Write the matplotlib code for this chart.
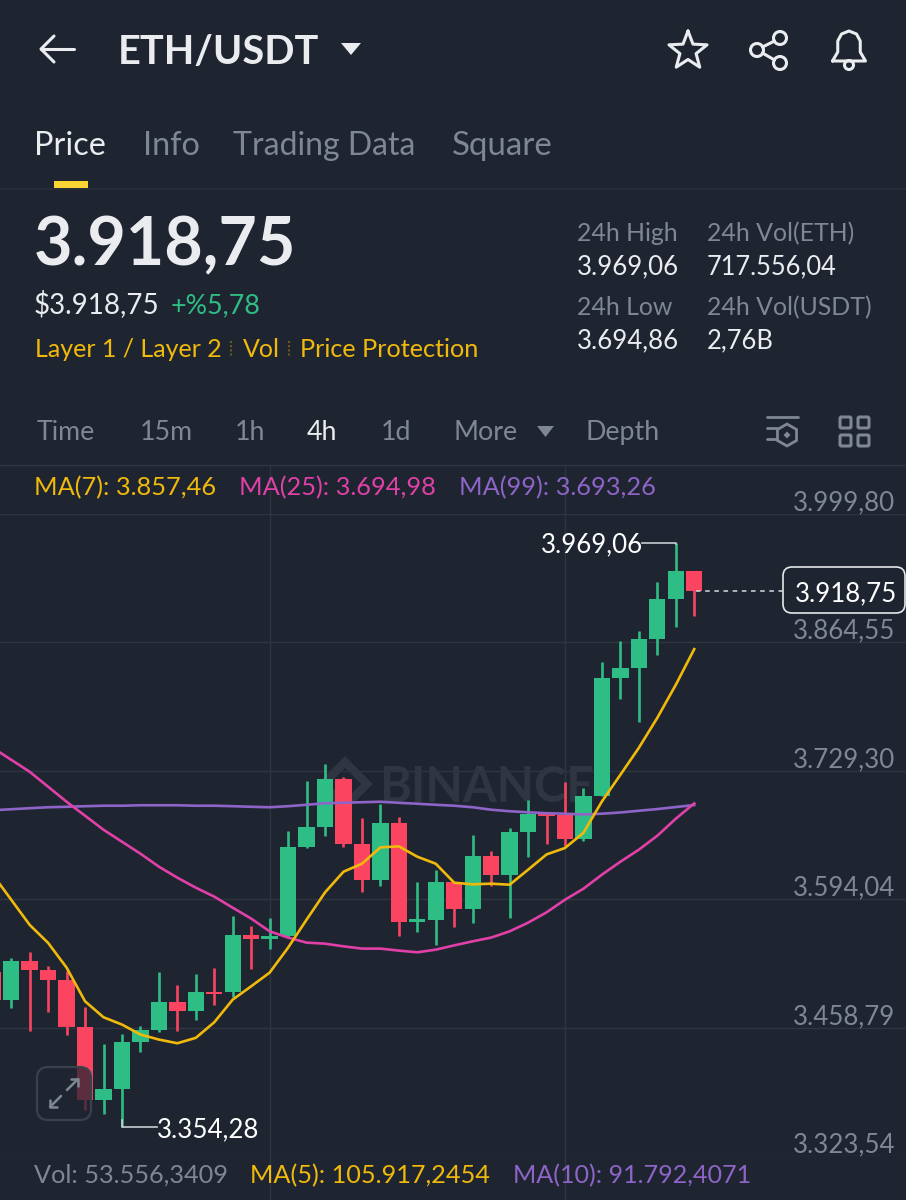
import matplotlib
matplotlib.use("Agg")
import matplotlib.pyplot as plt
from matplotlib.patches import FancyBboxPatch, Circle, Polygon, Rectangle, RegularPolygon
import numpy as np

FONT = "Lato"
plt.rcParams["font.family"] = [FONT, "DejaVu Sans"]

BG = "#1E2530"; GRID = "#2E3540"; UP = "#2EBD85"; DOWN = "#FB4560"
YEL = "#F0B90B"; PINK = "#E040A8"; PUR = "#8E64C8"; GRAY = "#7F8792"; LIGHT = "#EAECEF"

opens  = [3517.8,3488,3529,3519,3509,3459,3383,3394,3444,3456,3485.5,3476.4,3496.7,3496.7,3556.7,3552,3555,3649.3,3669.6,3721,3652,3614,3674,3570.4,3571.8,3611.8,3584,3640,3619.6,3664.8,3683.8,3683,3657.4,3703,3827.2,3837.4,3868,3910.7,3939.8]
closes = [3488.3,3529,3519,3509,3459,3383,3394,3444,3456,3485.5,3476.4,3496.7,3494.3,3556.7,3552,3555.7,3649.3,3669.6,3720.9,3652,3614,3673.9,3570.4,3572.8,3611.8,3584,3639.9,3619.6,3664.8,3683.8,3681.6,3657.4,3702.3,3827.2,3837.4,3868,3910.7,3939.8,3918.75]
highs  = [3517.8,3532,3538,3524,3518,3481,3442,3452.5,3460,3517,3504,3515,3522,3576,3565.5,3574.6,3665.4,3718.8,3736.7,3723,3680,3694.6,3681,3612.5,3624.4,3612,3662,3644.4,3669,3698.8,3684,3717,3711.4,3844,3866,3877,3928.2,3969.06,3939.8]
lows   = [3488.3,3479,3455,3475,3451.5,3372.5,3368,3354.28,3433.6,3454,3455,3467,3483,3491.5,3521,3542,3553,3648,3661,3648.6,3602,3608,3555,3559,3546,3564.4,3569.3,3607.5,3574.3,3639,3652.5,3649.7,3655,3703,3804.8,3781,3851.4,3880.6,3892.5]
ma7    = [3620,3593.5,3567,3548,3522,3486.5,3469.7,3462,3451.5,3446.2,3442.3,3448,3464.4,3488.3,3502.3,3516.7,3543,3572.5,3601.2,3623,3631.4,3648.6,3649.7,3638.8,3631.4,3611.4,3609.7,3610.4,3609.3,3625.1,3641.2,3648,3664,3697,3725.1,3753.5,3785.1,3819.8,3857.46]
ma25   = [3753.5,3740.9,3728.3,3712.5,3696.7,3682,3667.2,3654.6,3642,3628.3,3616.7,3606.2,3596.7,3585.1,3573.6,3560.2,3553.6,3548.3,3547.2,3544.4,3542,3542,3539.9,3538.1,3540.9,3545.4,3549.7,3553.6,3560.2,3569.3,3580.2,3593.5,3605.1,3619.9,3633.5,3646.2,3660.9,3678.8,3694.98]
ma99   = [3687.75,3688.8,3689.9,3690.9,3691.4,3692,3692.5,3692.5,3693,3693,3693,3692.5,3692.5,3692,3691.4,3690.9,3692,3693.5,3695.1,3695.6,3696.2,3696.7,3695.6,3694.6,3693.5,3692.5,3690.9,3688.3,3686.7,3685.6,3684.6,3684.1,3683.3,3684.1,3685.4,3687.2,3689,3691.1,3693.26]
axis_ticks = [3999.80,3864.55,3729.30,3594.04,3458.79,3323.54]
axis_labels = ["3.999,80","3.864,55","3.729,30","3.594,04","3.458,79","3.323,54"]

fig = plt.figure(figsize=(9.06, 12), dpi=100, facecolor=BG)
W, H = 906, 1200

# background layer (watermark, vertical grid)
bgax = fig.add_axes([0, 0, 1, 1], zorder=0); bgax.set_xlim(0, W); bgax.set_ylim(H, 0); bgax.axis("off")
bgax.text(379, 802, "BINANCE", color="#2F3641", fontsize=35, fontweight="bold", ha="left", va="baseline")
bgax.add_patch(RegularPolygon((345, 784), 4, radius=22, orientation=0, fill=False, ec="#2F3641", lw=6))
bgax.add_patch(RegularPolygon((345, 784), 4, radius=7, orientation=0, fc="#2F3641", ec="none"))

# chart
n = len(opens)
idx = np.arange(-1, n - 1)
spacing = 18.46; x0 = 11.2
ax = fig.add_axes([0, (H - 1156) / H, 1, (1156 - 514) / H], zorder=1)
ax.patch.set_alpha(0)
ax.set_xlim(-x0 / spacing, (W - x0) / spacing)
ax.set_ylim(axis_ticks[-1], axis_ticks[0])
for s in ax.spines.values():
    s.set_visible(False)
ax.set_xticks([]); ax.set_yticks(axis_ticks); ax.set_yticklabels([])
ax.tick_params(length=0)
ax.yaxis.grid(True, color=GRID, lw=1); ax.set_axisbelow(True)

colors = [UP if c >= o else DOWN for o, c in zip(opens, closes)]
ax.vlines(idx, lows, highs, colors=colors, lw=1.9, zorder=2)
b = np.minimum(opens, closes); h = np.abs(np.array(closes) - np.array(opens))
ax.bar(idx, h, bottom=b, width=0.885, color=colors, lw=0, zorder=3)
ax.plot(idx, ma99, color=PUR, lw=1.9, zorder=4, clip_on=False)
ax.plot(idx, ma25, color=PINK, lw=1.9, zorder=4, clip_on=False)
ax.plot(idx, ma7, color=YEL, lw=1.9, zorder=5, clip_on=False)

# UI layer in screen pixels
ui = fig.add_axes([0, 0, 1, 1], zorder=2); ui.patch.set_alpha(0)
ui.set_xlim(0, W); ui.set_ylim(H, 0); ui.axis("off")

def t(x, y, s, c=GRAY, fs=18, w="normal", ha="left"):
    return ui.text(x, y, s, color=c, fontsize=fs, fontweight=w, ha=ha, va="baseline")

def ln(xs, ys, c=LIGHT, lw=2.2, **k):
    ui.plot(xs, ys, color=c, lw=lw, solid_capstyle="round", solid_joinstyle="round", **k)

# vertical gridlines
for xv in (270, 565):
    bgax.plot([xv, xv], [465, 1200], color=GRID, lw=1)

# header
ln([41, 74], [49, 49]); ln([54, 41, 54], [36, 49, 62])
t(118, 64, "ETH/USDT", LIGHT, 28.5, "bold")
ui.add_patch(Polygon([(341, 43), (361, 43), (351, 55)], fc=LIGHT, ec="none"))
ang = np.deg2rad(np.arange(0, 11) * 36 - 90)
rad = np.where(np.arange(11) % 2 == 0, 20, 8.5)
ln(688 + rad * np.cos(ang), 51 + rad * np.sin(ang))
for cx, cy in ((780, 38), (757, 50), (780, 63)):
    ui.add_patch(Circle((cx, cy), 6.5, fc="none", ec=LIGHT, lw=2.2))
ln([762.5, 774.5], [47, 41]); ln([762.5, 774.5], [53, 60])
bx = 849 + 15 * np.array([-1.1, -0.75, -0.75, -0.5, 0, 0.5, 0.75, 0.75, 1.1, -1.1])
by = np.array([61, 52, 41, 34, 31, 34, 41, 52, 61, 61])
ln(bx, by)
ui.add_patch(Circle((849, 65), 4.5, fc="none", ec=LIGHT, lw=2.2))

t(34, 155, "Price", LIGHT, 23.3)
t(143, 155, "Info", GRAY, 23.3)
t(233, 155, "Trading Data", GRAY, 23)
t(452, 155, "Square", GRAY, 23.8)
ui.add_patch(Rectangle((54, 181), 34, 7, fc="#FCD535", ec="none"))
ui.plot([0, W], [188.5, 188.5], color="#2A313B", lw=1.2)

# price block
t(34, 265, "3.918,75", LIGHT, 47.8, "bold")
t(34, 313, "$3.918,75", LIGHT, 20)
t(171, 313, "+%5,78", UP, 19.4)
t(35, 357, "Layer 1 / Layer 2", YEL, 18)
t(243, 357, "Vol", YEL, 18)
t(300, 357, "Price Protection", YEL, 18.2)
for xv in (231, 289):
    ui.plot([xv, xv], [341, 357], color="#6B5A1C", lw=1.5, ls=(0, (1, 1)))

t(577, 241, "24h High", GRAY, 17.9)
t(577, 274, "3.969,06", LIGHT, 18.6)
t(707, 241, "24h Vol(ETH)", GRAY, 17.9)
t(707, 274, "717.556,04", LIGHT, 18.4)
t(577, 315, "24h Low", GRAY, 17.9)
t(577, 348, "3.694,86", LIGHT, 18.6)
t(707, 315, "24h Vol(USDT)", GRAY, 17.9)
t(707, 348, "2,76B", LIGHT, 18.4)

# intervals
for x, s, c in ((37, "Time", GRAY), (140, "15m", GRAY), (235, "1h", GRAY), (307, "4h", LIGHT),
                (381, "1d", GRAY), (454, "More", GRAY), (586, "Depth", GRAY)):
    t(x, 440, s, c, 19.3)
ui.add_patch(Polygon([(537, 426), (554, 426), (545.5, 437)], fc=GRAY, ec="none"))
ln([767, 798], [417, 417], GRAY, 2); ln([767, 777], [428, 428], GRAY, 2); ln([767, 777], [439, 439], GRAY, 2)
ui.add_patch(RegularPolygon((787, 435), 6, radius=11, fc="none", ec=GRAY, lw=2))
ui.add_patch(RegularPolygon((787, 435), 4, radius=3.5, fc=GRAY, ec="none"))
for gx, gy in ((839, 416), (857, 416), (839, 434), (857, 434)):
    ui.add_patch(FancyBboxPatch((gx + 1, gy + 1), 11, 11, boxstyle="round,pad=0,rounding_size=1.5", fc="none", ec=GRAY, lw=2.2))
ui.plot([0, W], [465, 465], color=GRID, lw=1)

# MA legend
t(34, 495, "MA(7): 3.857,46", YEL, 18.3)
t(239, 495, "MA(25): 3.694,98", PINK, 18.3)
t(459, 495, "MA(99): 3.693,26", PUR, 18.3)

# axis labels
for y, s in zip((510, 638, 767, 895, 1024, 1152), axis_labels):
    t(895, y, s, GRAY, 18.6, ha="right")

# annotations
t(541, 552, "3.969,06", "white", 18.6)
ui.plot([642, 676, 676], [543, 543, 544], color="#C9CDD3", lw=1.2)
t(157, 1137, "3.354,28", "white", 18.6)
ui.plot([122, 122, 157], [1120, 1127, 1127], color="#C9CDD3", lw=1.2)
ui.plot([696, 783], [591, 591], color="#D8DBDF", lw=1.1, ls=(0, (3, 3)))
ui.add_patch(FancyBboxPatch((783, 567), 122, 46, boxstyle="round,pad=0,rounding_size=9", fc=BG, ec="#E6E8EA", lw=1.2))
t(795, 601, "3.918,75", "white", 18.6)

# expand button
ui.add_patch(FancyBboxPatch((37, 1067), 54, 53, boxstyle="round,pad=0,rounding_size=11", fc=BG, alpha=0.72, ec="none"))
ui.add_patch(FancyBboxPatch((37, 1067), 54, 53, boxstyle="round,pad=0,rounding_size=11", fc="none", ec="#3A414C", lw=1.6))
ln([67, 78], [1090, 1079], GRAY, 1.8); ln([71, 78, 78], [1079, 1079, 1086], GRAY, 1.8)
ln([50, 61], [1107, 1096], GRAY, 1.8); ln([50, 50, 57], [1100, 1107, 1107], GRAY, 1.8)

# volume footer
t(34, 1183, "Vol: 53.556,3409", GRAY, 18.2)
t(250, 1183, "MA(5): 105.917,2454", YEL, 18.2)
t(513, 1183, "MA(10): 91.792,4071", PUR, 18.1)

fig.savefig("out.png", dpi=100, facecolor=BG)
